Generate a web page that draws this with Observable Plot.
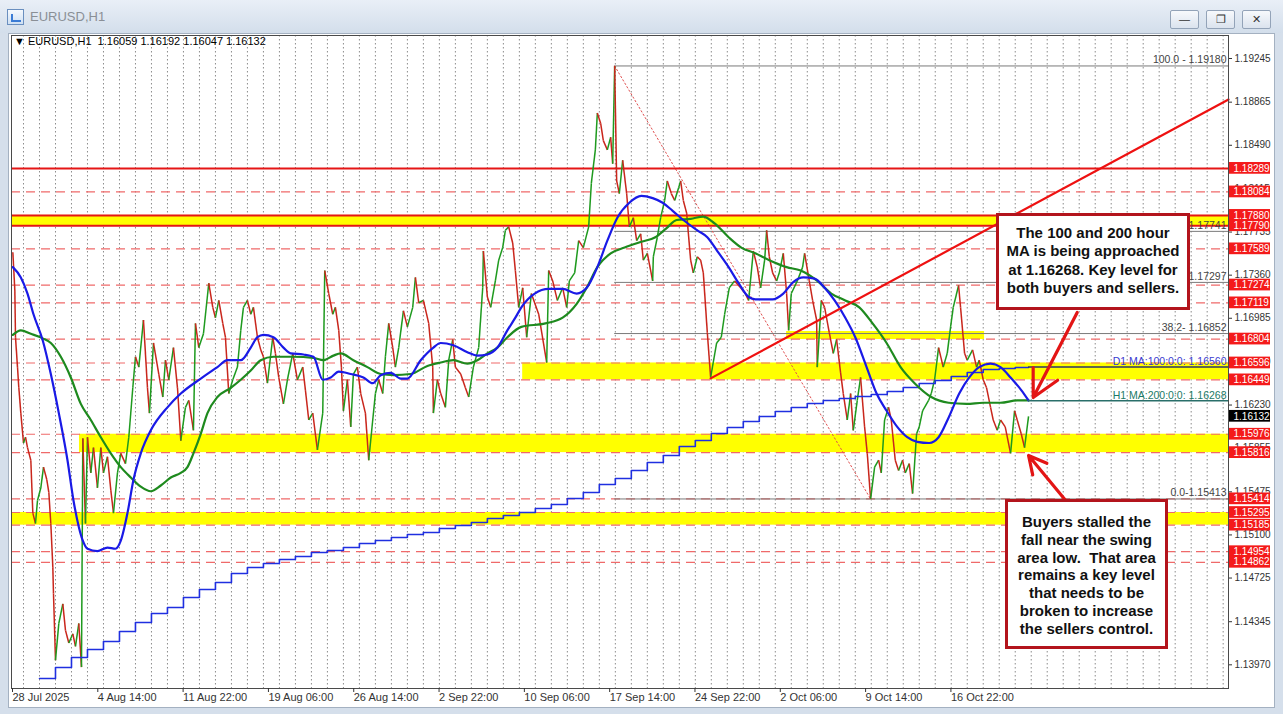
<!DOCTYPE html>
<html><head><meta charset="utf-8">
<script src="https://cdn.jsdelivr.net/npm/d3@7"></script>
<script src="https://cdn.jsdelivr.net/npm/@observablehq/plot@0.6"></script>
<style>
html,body{margin:0;padding:0;width:1283px;height:714px;overflow:hidden;background:#d5dfeb;font-family:"Liberation Sans",Arial,sans-serif;}
#titlebar{position:absolute;left:0;top:0;width:1283px;height:33px;background:linear-gradient(#e9eff7,#d3deeb);}
#icon{position:absolute;left:7px;top:9px;width:15px;height:14px;border:1px solid #6a8fbf;background:linear-gradient(#f4f8fd,#cfe0f3);}
#icon:after{content:"";position:absolute;left:3px;top:4px;width:8px;height:6px;border-left:2px solid #3a7bd5;border-bottom:2px solid #3a7bd5;}
#wtitle{position:absolute;left:30px;top:9px;font-size:13px;color:#8a8f96;}
.btn{position:absolute;top:10px;width:27px;height:17px;border:1px solid #93a3b8;border-radius:2px;background:linear-gradient(#f7f9fc,#dbe3ee);font-size:11px;line-height:17px;text-align:center;color:#333;}
#panel{position:absolute;left:8px;top:33px;width:1265px;height:673px;background:#fff;border:1px solid #a4b1c1;}
#chart{position:absolute;left:0;top:0;}
#hdr{position:absolute;left:14px;top:35px;font-size:11px;color:#000;white-space:pre;}
.note{position:absolute;background:#fff;border:3px solid #b3141c;font-weight:bold;font-size:15px;text-align:center;color:#111;box-sizing:border-box;font-family:"Liberation Sans",Arial,sans-serif;}
</style></head>
<body>
<div id="titlebar"><div id="icon"></div><div id="wtitle">EURUSD,H1</div>
<div class="btn" style="left:1170px">&#8212;</div>
<div class="btn" style="left:1206px">&#10064;</div>
<div class="btn" style="left:1242px">&#10005;</div>
</div>
<div id="panel"></div>
<div id="chart"></div>
<div id="hdr">&#9660; EURUSD,H1  1.16059 1.16192 1.16047 1.16132</div>
<div class="note" style="left:996px;top:213px;width:194px;height:97px;padding-top:8px;line-height:18.3px;">The 100 and 200 hour<br>MA is being approached<br>at 1.16268. Key level for<br>both buyers and sellers.</div>
<div class="note" style="left:1005px;top:499px;width:163px;height:150px;padding-top:11px;line-height:17.8px;">Buyers stalled the<br>fall near the swing<br>area low.&nbsp; That area<br>remains a key level<br>that needs to be<br>broken to increase<br>the sellers control.</div>
<script>
// ---------- data ----------
const xMax = 1826;                       // last bar slot on the chart (H1 bars since 28 Jul 06:00)
const yDomain = [1.13764, 1.19445];
const xTickBars = [0,128,256,384,512,640,768,896,1024,1152,1280,1408];
const xTickLabels = ["28 Jul 2025","4 Aug 14:00","11 Aug 22:00","19 Aug 06:00","26 Aug 14:00","2 Sep 22:00","10 Sep 06:00","17 Sep 14:00","24 Sep 22:00","2 Oct 06:00","9 Oct 14:00","16 Oct 22:00"];
const yTicks = [1.19245,1.18865,1.18490,1.18115,1.17735,1.17360,1.16985,1.16610,1.16230,1.15855,1.15475,1.15100,1.14725,1.14345,1.13970];
const redLabels = [1.18289,1.18084,1.17880,1.17790,1.17589,1.17274,1.17119,1.16804,1.16596,1.16449,1.15976,1.15816,1.15414,1.15295,1.15185,1.14954,1.14862];
const lastPrice = 1.16132;
const solidLevels = [1.18289,1.17880,1.17790];
const dashedLevels = [1.18084,1.17589,1.17274,1.17119,1.16804,1.16596,1.16449,1.15976,1.15816,1.15414,1.15295,1.15185,1.14954,1.14862];
const zoneFrom = [0, 767, 102, 0, 1163];
const zoneTo   = [xMax, xMax, xMax, xMax, 1460];
const zoneLo   = [1.17790, 1.16449, 1.15816, 1.15185, 1.16800];
const zoneHi   = [1.17880, 1.16596, 1.15976, 1.15295, 1.16870];
const fibStart = 905;
const fibValues = [1.19180, 1.17741, 1.17297, 1.16852, 1.15413];
const fibText = ["100.0 - 1.19180", "61.8 - 1.17741", "50.0 - 1.17297", "38.2- 1.16852", "0.0-1.15413"];
const fibDiagonal = [[905, 1.19180], [1289, 1.15413]];
const trendLine = [[1049, 1.16462], [1826, 1.18888]];
const arrowFrom = [[1599, 1.17035], [1583, 1.15391]];
const arrowTo   = [[1533, 1.16296], [1526, 1.15791]];
const maLabels = ["D1 MA:100:0:0: 1.16560", "H1 MA:200:0:0: 1.16268"];
const maLevels = [1.16560, 1.16268];
const maLevelFrom = [1526, 1526];

const pricePath = [[2,1.1756],[5,1.1723],[6,1.1682],[9,1.1656],[11,1.1638],[14,1.1616],[18,1.1590],[21,1.1595],[24,1.1586],[29,1.1575],[32,1.1529],[36,1.1520],[39,1.1540],[44,1.1551],[48,1.1569],[53,1.1558],[56,1.1547],[59,1.1520],[62,1.1482],[63,1.1459],[66,1.1401],[71,1.1433],[77,1.1450],[81,1.1427],[86,1.1416],[92,1.1424],[96,1.1413],[101,1.1433],[105,1.1395],[107,1.1594],[111,1.1520],[114,1.1595],[119,1.1564],[123,1.1586],[129,1.1551],[134,1.1586],[138,1.1564],[144,1.1578],[149,1.1549],[153,1.1529],[159,1.1564],[164,1.1581],[171,1.1572],[176,1.1595],[182,1.1638],[186,1.1665],[191,1.1656],[198,1.1697],[204,1.1638],[207,1.1616],[213,1.1677],[221,1.1650],[227,1.1630],[231,1.1662],[236,1.1645],[243,1.1673],[249,1.1638],[254,1.1592],[261,1.1621],[266,1.1627],[273,1.1601],[276,1.1694],[281,1.1673],[288,1.1685],[296,1.1729],[302,1.1708],[306,1.1699],[311,1.1714],[317,1.1694],[321,1.1682],[326,1.1633],[332,1.1645],[339,1.1656],[344,1.1688],[348,1.1708],[354,1.1714],[359,1.1702],[363,1.1708],[369,1.1682],[374,1.1671],[378,1.1665],[384,1.1642],[392,1.1682],[396,1.1668],[401,1.1647],[408,1.1624],[414,1.1645],[422,1.1668],[429,1.1645],[437,1.1656],[441,1.1636],[446,1.1610],[452,1.1616],[459,1.1584],[467,1.1616],[470,1.1740],[476,1.1720],[482,1.1702],[486,1.1708],[491,1.1688],[495,1.1656],[498,1.1618],[504,1.1645],[509,1.1604],[513,1.1650],[519,1.1656],[524,1.1633],[531,1.1616],[536,1.1575],[542,1.1610],[546,1.1633],[551,1.1645],[557,1.1633],[561,1.1665],[566,1.1694],[572,1.1673],[576,1.1656],[581,1.1673],[588,1.1705],[594,1.1691],[602,1.1708],[606,1.1734],[611,1.1712],[618,1.1714],[626,1.1694],[632,1.1656],[633,1.1616],[639,1.1645],[644,1.1633],[651,1.1621],[656,1.1662],[662,1.1680],[666,1.1656],[674,1.1650],[681,1.1638],[686,1.1630],[693,1.1656],[701,1.1673],[707,1.1725],[708,1.1757],[714,1.1717],[719,1.1708],[726,1.1731],[731,1.1749],[737,1.1760],[741,1.1775],[746,1.1778],[752,1.1764],[756,1.1740],[761,1.1708],[767,1.1725],[773,1.1682],[780,1.1720],[791,1.1702],[803,1.1660],[806,1.1740],[812,1.1731],[819,1.1714],[827,1.1725],[833,1.1708],[837,1.1731],[845,1.1738],[851,1.1766],[858,1.1760],[866,1.1778],[870,1.1816],[876,1.1845],[879,1.1877],[884,1.1868],[888,1.1853],[894,1.1845],[899,1.1856],[902,1.1833],[905,1.1918],[908,1.1818],[912,1.1807],[917,1.1836],[923,1.1807],[927,1.1778],[933,1.1786],[938,1.1766],[944,1.1772],[948,1.1749],[954,1.1755],[962,1.1731],[963,1.1752],[969,1.1769],[974,1.1786],[980,1.1801],[984,1.1818],[990,1.1807],[995,1.1801],[1001,1.1812],[1004,1.1818],[1008,1.1801],[1013,1.1790],[1019,1.1749],[1023,1.1738],[1029,1.1752],[1034,1.1749],[1038,1.1738],[1044,1.1686],[1049,1.1647],[1058,1.1677],[1065,1.1682],[1070,1.1702],[1077,1.1725],[1085,1.1731],[1094,1.1725],[1101,1.1720],[1106,1.1714],[1113,1.1757],[1119,1.1743],[1124,1.1725],[1130,1.1749],[1133,1.1775],[1137,1.1752],[1142,1.1738],[1148,1.1731],[1152,1.1738],[1158,1.1755],[1163,1.1720],[1166,1.1688],[1170,1.1720],[1179,1.1731],[1187,1.1743],[1190,1.1755],[1197,1.1731],[1202,1.1714],[1208,1.1697],[1209,1.1656],[1215,1.1714],[1220,1.1708],[1227,1.1686],[1233,1.1668],[1238,1.1680],[1244,1.1651],[1248,1.1633],[1254,1.1610],[1259,1.1633],[1263,1.1601],[1269,1.1627],[1274,1.1647],[1280,1.1604],[1284,1.1581],[1289,1.15413],[1295,1.1569],[1301,1.1575],[1305,1.1564],[1310,1.1610],[1316,1.1621],[1320,1.1610],[1326,1.1575],[1331,1.1566],[1337,1.1575],[1341,1.1564],[1347,1.1572],[1352,1.1546],[1358,1.1598],[1362,1.1604],[1367,1.1618],[1376,1.1627],[1380,1.1633],[1385,1.1645],[1391,1.1673],[1398,1.1656],[1404,1.1668],[1409,1.1691],[1413,1.1708],[1421,1.1727],[1424,1.1708],[1430,1.1668],[1434,1.1662],[1442,1.1671],[1448,1.1656],[1452,1.1662],[1458,1.1645],[1463,1.1638],[1469,1.1621],[1473,1.1610],[1479,1.1601],[1484,1.1610],[1491,1.1604],[1499,1.1581],[1505,1.1618],[1509,1.1610],[1515,1.1598],[1520,1.1586],[1526,1.16132]];

const ma100 = [[2,1.1743],[14,1.1734],[24,1.1720],[33,1.1702],[47,1.1679],[59,1.1650],[71,1.1616],[84,1.1575],[93,1.1540],[101,1.1517],[107,1.1505],[114,1.1498],[129,1.1496],[144,1.1499],[156,1.1498],[164,1.1505],[174,1.1529],[183,1.1558],[194,1.1581],[209,1.1601],[234,1.1621],[254,1.1633],[284,1.1646],[309,1.1656],[324,1.1662],[344,1.1662],[359,1.1673],[369,1.1682],[378,1.1684],[393,1.1682],[408,1.1673],[419,1.1668],[438,1.1667],[453,1.1665],[467,1.1645],[479,1.1647],[491,1.1652],[509,1.1650],[528,1.1647],[542,1.1642],[554,1.1649],[569,1.1651],[584,1.1646],[594,1.1646],[614,1.1662],[633,1.1673],[644,1.1677],[663,1.1675],[684,1.1669],[699,1.1666],[714,1.1667],[729,1.1673],[744,1.1688],[756,1.1699],[765,1.1708],[785,1.1720],[806,1.1724],[827,1.1724],[848,1.1720],[863,1.1725],[879,1.1743],[894,1.1766],[909,1.1786],[927,1.1799],[945,1.1805],[962,1.1803],[977,1.1799],[992,1.1792],[1008,1.1784],[1029,1.1775],[1044,1.1769],[1059,1.1757],[1076,1.1743],[1091,1.1729],[1106,1.1717],[1116,1.1715],[1142,1.1715],[1158,1.1720],[1173,1.1730],[1188,1.1734],[1205,1.1733],[1220,1.1725],[1235,1.1714],[1251,1.1699],[1266,1.1682],[1283,1.1656],[1298,1.1633],[1313,1.1618],[1329,1.1604],[1344,1.1595],[1359,1.1591],[1377,1.1590],[1391,1.1595],[1406,1.1612],[1422,1.1633],[1437,1.1647],[1452,1.1656],[1469,1.1659],[1484,1.1656],[1499,1.1647],[1515,1.1636],[1526,1.1627]];

const ma200 = [[2,1.1684],[14,1.1688],[29,1.1685],[47,1.1681],[59,1.1677],[74,1.1665],[89,1.1647],[104,1.1624],[119,1.1610],[134,1.1595],[149,1.1581],[164,1.1569],[179,1.1560],[194,1.1552],[209,1.1548],[224,1.1553],[239,1.1560],[254,1.1564],[264,1.1569],[273,1.1581],[284,1.1598],[294,1.1616],[309,1.1630],[329,1.1638],[344,1.1645],[359,1.1653],[374,1.1662],[393,1.1665],[423,1.1665],[453,1.1664],[468,1.1662],[483,1.1666],[494,1.1668],[513,1.1662],[534,1.1656],[554,1.1650],[573,1.1649],[599,1.1650],[624,1.1657],[644,1.1660],[663,1.1662],[684,1.1659],[699,1.1662],[714,1.1668],[729,1.1673],[744,1.1682],[765,1.1691],[801,1.1694],[827,1.1699],[848,1.1711],[863,1.1725],[879,1.1743],[899,1.1755],[920,1.1760],[945,1.1765],[966,1.1769],[983,1.1777],[998,1.1784],[1019,1.1785],[1038,1.1787],[1055,1.1781],[1076,1.1769],[1095,1.1760],[1116,1.1755],[1137,1.1749],[1163,1.1743],[1184,1.1740],[1209,1.1731],[1230,1.1720],[1251,1.1714],[1272,1.1708],[1292,1.1694],[1313,1.1677],[1334,1.1656],[1355,1.1642],[1380,1.1630],[1406,1.1625],[1433,1.1624],[1458,1.1625],[1484,1.1625],[1509,1.1627],[1526,1.1627]];

// daily 100 MA, one value per trading day (days start at bar 42, every 24 bars)
const d1FirstBar = 42, barsPerDay = 24;
const d1Ma = [1.13851,1.13947,1.14034,1.14103,1.14173,1.14260,1.14338,1.14416,1.14469,1.14556,1.14625,1.14686,1.14764,1.14817,1.14851,1.14886,1.14912,1.14947,1.14965,1.14991,1.15025,1.15052,1.15078,1.15104,1.15121,1.15156,1.15182,1.15208,1.15243,1.15269,1.15295,1.15330,1.15365,1.15417,1.15469,1.15539,1.15591,1.15661,1.15730,1.15791,1.15869,1.15922,1.15982,1.16035,1.16087,1.16130,1.16174,1.16209,1.16243,1.16270,1.16287,1.16304,1.16322,1.16348,1.16383,1.16417,1.16444,1.16478,1.16513,1.16539,1.16548,1.16557];
const lastBar = 1526;

// ---------- derived tables ----------
const segs = pricePath.slice(1).map((p, i) => ({x1: pricePath[i][0], y1: pricePath[i][1], x2: p[0], y2: p[1], up: p[1] >= pricePath[i][1]}));
const d1Steps = d1Ma.map((v, i) => [d1FirstBar + i * barsPerDay, v]).concat([[lastBar, d1Ma[d1Ma.length - 1]]]);
const zones = zoneLo.map((lo, i) => ({x1: zoneFrom[i], x2: zoneTo[i], lo, hi: zoneHi[i]}));
const fibs = fibValues.map((v, i) => ({v, t: fibText[i]}));
const arrows = arrowFrom.map((a, i) => ({x1: a[0], y1: a[1], x2: arrowTo[i][0], y2: arrowTo[i][1]}));
const maLv = maLevels.map((v, i) => ({v, t: maLabels[i], from: maLevelFrom[i]}));
const gridBars = d3.range(18, xMax, barsPerDay);
const tickLabel = new Map(xTickBars.map((b, i) => [b, xTickLabels[i]]));
const half = 0.00051;

const chart = Plot.plot({
  width: 1283, height: 714,
  marginLeft: 11, marginRight: 55, marginTop: 35, marginBottom: 26,
  style: {background: "transparent", fontFamily: "Liberation Sans, Arial, sans-serif", fontSize: "11px", color: "#333", overflow: "visible"},
  x: {domain: [0, xMax]},
  y: {domain: yDomain},
  marks: [
    Plot.ruleX(gridBars, {x: d => d, stroke: "#8c8c8c", strokeDasharray: "1.5,2.5", strokeWidth: 1}),
    Plot.rect(zones, {x1: "x1", x2: "x2", y1: "lo", y2: "hi", fill: "#ffff00"}),
    Plot.ruleY(dashedLevels, {y: d => d, stroke: "#ef6a6a", strokeDasharray: "9,6", strokeWidth: 1.2}),
    Plot.ruleY(fibs, {y: "v", x1: fibStart, x2: xMax, stroke: "#7a7a7a", strokeWidth: 1}),
    Plot.line(fibDiagonal, {x: d => d[0], y: d => d[1], stroke: "#e05050", strokeDasharray: "1.5,2.5", strokeWidth: 1}),
    Plot.ruleY(solidLevels, {y: d => d, stroke: "#e51616", strokeWidth: 2}),
    Plot.link(segs, {x1: "x1", y1: "y1", x2: "x2", y2: "y2", stroke: d => d.up ? "#1e9a1e" : "#c9261c", strokeWidth: 1.5}),
    Plot.line(d1Steps, {x: d => d[0], y: d => d[1], curve: "step-after", stroke: "#1f2fe0", strokeWidth: 1.6, clip: true}),
    Plot.line(ma200, {x: d => d[0], y: d => d[1], curve: "monotone-x", stroke: "#1e8a1e", strokeWidth: 2.2}),
    Plot.line(ma100, {x: d => d[0], y: d => d[1], curve: "monotone-x", stroke: "#1a1ae6", strokeWidth: 2.2}),
    Plot.ruleY(maLv, {y: "v", x1: "from", x2: xMax, stroke: (d, i) => i === 0 ? "#2c3566" : "#2a6f6a", strokeWidth: 1.5}),
    Plot.line(trendLine, {x: d => d[0], y: d => d[1], stroke: "#ee1111", strokeWidth: 2.2}),
    Plot.arrow(arrows, {x1: "x1", y1: "y1", x2: "x2", y2: "y2", stroke: "#e31515", strokeWidth: 3.2, headLength: 14, headAngle: 55}),
    Plot.text(fibs, {y: "v", text: "t", frameAnchor: "right", dx: -2, dy: -6, textAnchor: "end", fill: "#444", fontSize: 10.5}),
    Plot.text(maLv, {y: "v", text: "t", frameAnchor: "right", dx: -2, dy: -5, textAnchor: "end", fill: (d, i) => i === 0 ? "#3a3ad0" : "#1c7a66", fontSize: 10.5}),
    Plot.frame({stroke: "#4a4a4a", strokeWidth: 1}),
    Plot.axisX(xTickBars, {anchor: "bottom", tickFormat: d => tickLabel.get(d), textAnchor: "start", dx: 1, tickSize: 4, tickPadding: 1, fontSize: 11, color: "#333"}),
    Plot.axisY(yTicks, {anchor: "right", tickFormat: d => d.toFixed(5), tickSize: 3, tickPadding: 3, fontSize: 10, color: "#333"}),
    Plot.rect(redLabels, {x1: xMax + 1.5, x2: xMax + 63, y1: d => d - half, y2: d => d + half, fill: "#f41a1a", clip: false}),
    Plot.text(redLabels, {y: d => d, text: d => d.toFixed(5), frameAnchor: "right", dx: 5, textAnchor: "start", fill: "white", fontSize: 10}),
    Plot.rect([lastPrice], {x1: xMax + 1.5, x2: xMax + 63, y1: d => d - half, y2: d => d + half, fill: "#000", clip: false}),
    Plot.text([lastPrice], {y: d => d, text: d => d.toFixed(5), frameAnchor: "right", dx: 5, textAnchor: "start", fill: "white", fontSize: 10})
  ]
});
document.getElementById("chart").appendChild(chart);
</script>
</body></html>
